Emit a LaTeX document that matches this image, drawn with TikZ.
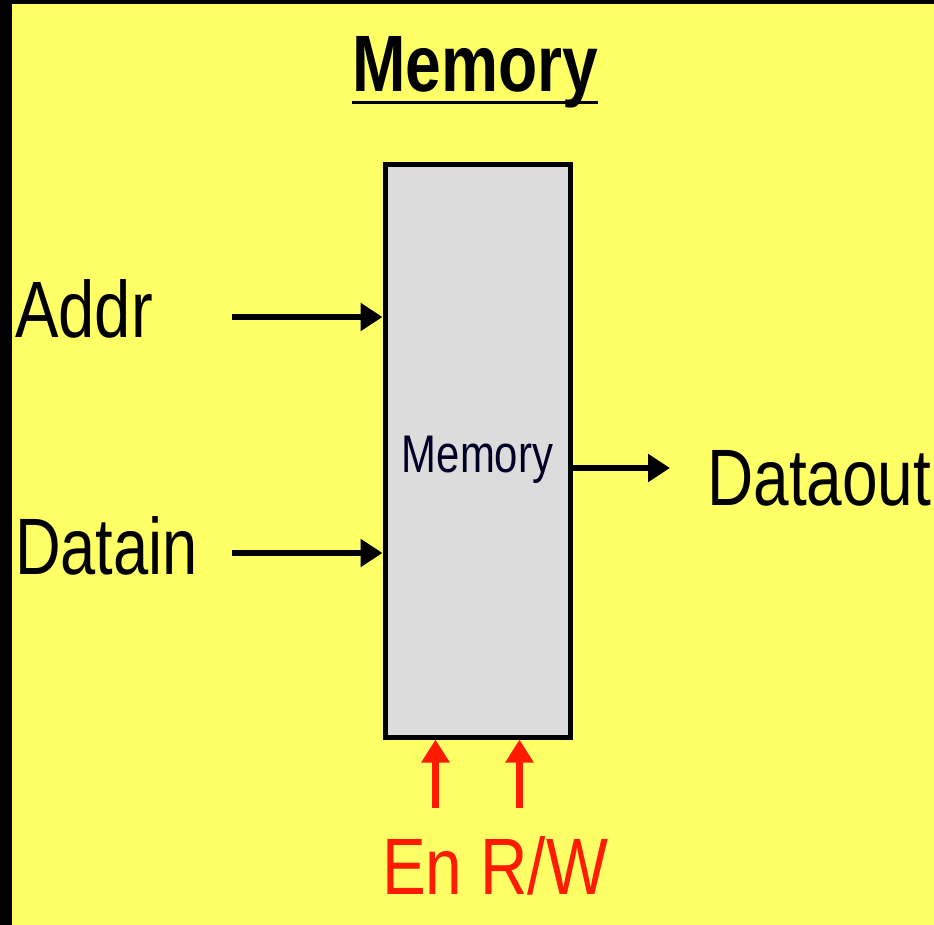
\documentclass[tikz,border=0pt]{standalone}
\usepackage{fontspec}
\setmainfont{Liberation Sans}
\usetikzlibrary{arrows.meta,calc}
\definecolor{bgyellow}{HTML}{FFFF66}
\definecolor{boxgray}{HTML}{DCDCDC}
\definecolor{sigred}{HTML}{FF1A00}
\begin{document}
\begin{tikzpicture}[x=1pt,y=-1pt,
  lbl/.style={inner sep=0pt, anchor=base west, font=\fontsize{80}{96}\selectfont},
  sig/.style={line width=6pt, -{Triangle[length=22pt,width=27pt]}},
  ctl/.style={sig, line width=7pt, draw=sigred, -{Triangle[length=23pt,width=27pt,fill=sigred]}},
  membox/.style={draw=black, line width=5pt, fill=boxgray, minimum width=185pt, minimum height=572pt, inner sep=0pt}]
% background and frame
\fill[bgyellow] (0,0) rectangle (934,925);
\fill[black] (0,0) rectangle (12,925);
\fill[black] (0,0) rectangle (934,4);
\useasboundingbox (0,0) rectangle (934,925);
% title
\node[lbl, font=\fontsize{80}{96}\selectfont\bfseries] (title) at (352,92) {\scalebox{0.802}[1]{Memory}};
\draw[line width=3pt] ($(title.base west)+(0,11)$) coordinate (ul1) -- ($(title.base east)+(0,11)$) coordinate (ul2);
% memory box
\node[membox] (mem) at (477.5,451) {};
\node[inner sep=0pt, anchor=base, font=\fontsize{53}{64}\selectfont, text={black!85!blue}] (memlbl) at (477.5,472) {\scalebox{0.79}[1]{Memory}};
% inputs
\node[lbl] (addr) at (15,337) {\scalebox{0.815}[1]{Addr}};
\node[lbl] (datain) at (15,574) {\scalebox{0.79}[1]{Datain}};
\coordinate (addrS) at (232,317);
\coordinate (datainS) at (232,553);
\draw[sig] (addrS) -- (addrS -| mem.west);
\draw[sig] (datainS) -- (datainS -| mem.west);
% output
\node[lbl] (dataout) at (707,505) {\scalebox{0.8}[1]{Dataout}};
\coordinate (doutE) at (670,468);
\draw[sig] (doutE -| mem.east) -- (doutE);
% control signals
\node[lbl, text=sigred] (ctrl) at (382,894) {\scalebox{0.82}[1]{En R/W}};
\coordinate (enS) at (435.5,808);
\coordinate (rwS) at (519.5,808);
\draw[ctl] (enS) -- (enS |- mem.south);
\draw[ctl] (rwS) -- (rwS |- mem.south);
\end{tikzpicture}
\end{document}
